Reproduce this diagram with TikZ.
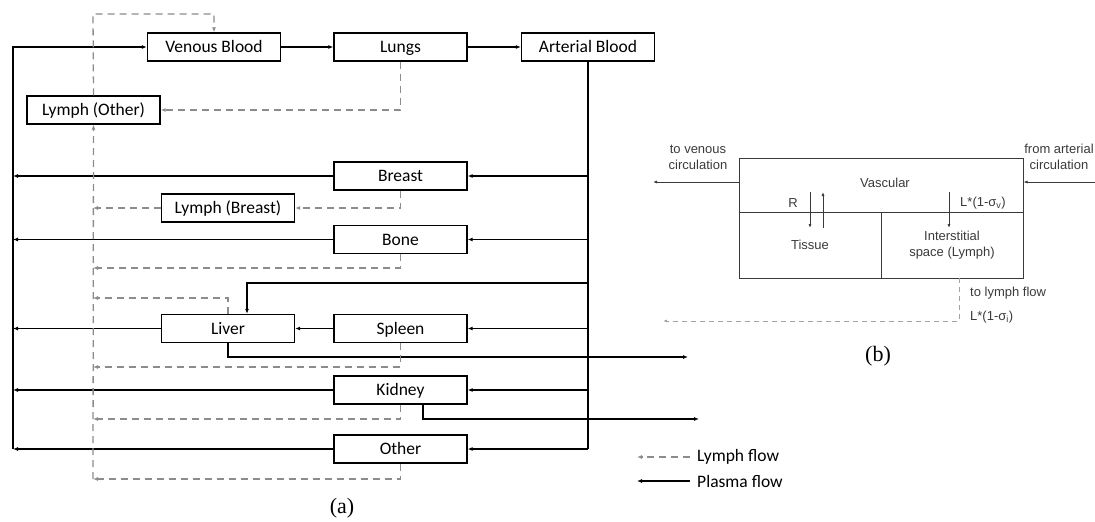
\documentclass[tikz,border=0pt]{standalone}
\usepackage{fontspec}
\setmainfont{Carlito}
\newfontfamily\arialf{Liberation Sans}
\newfontfamily\timesf{Liberation Serif}
\usetikzlibrary{arrows.meta}
\definecolor{lg}{HTML}{8C8C8C}
\definecolor{bg}{HTML}{3A3A3A}
\begin{document}
\begin{tikzpicture}[x=1pt,y=-1pt,
  box/.style={draw,line width=1.3pt,inner sep=0pt,minimum width=133pt,minimum height=28pt,text height=14.3pt,text depth=3pt,font=\fontsize{17.5}{17.5}\selectfont},
  pl/.style={line width=1.3pt,-{Latex[length=5pt,width=4pt]}},
  ly/.style={draw=lg,line width=1.3pt,dash pattern=on 7pt off 5pt,-{Latex[length=5pt,width=4pt]}},
  bbox/.style={draw=bg,line width=1pt,inner sep=0pt,font=\arialf\fontsize{13}{16.5}\selectfont,text=bg,align=center},
  bt/.style={font=\arialf\fontsize{13}{16}\selectfont,text=bg,align=center,inner sep=0pt},
  bar/.style={draw=bg,line width=1pt,-{Latex[length=4pt,width=3pt]}},
  lbl/.style={font=\timesf\fontsize{22}{22}\selectfont,inner sep=0pt}]
\useasboundingbox (0,0) rectangle (1095,522);

% panel (a) boxes
\node[box] (venous) at (214,47) {Venous Blood};
\node[box] (lungs) at (400.5,47) {Lungs};
\node[box] (arterial) at (588,47) {Arterial Blood};
\node[box] (lymphO) at (93.5,110) {Lymph (Other)};
\node[box] (breast) at (400.5,176) {Breast};
\node[box] (lymphB) at (228,208) {Lymph (Breast)};
\node[box] (bone) at (400.5,239.5) {Bone};
\node[box] (liver) at (228,328.5) {Liver};
\node[box] (spleen) at (400.5,328.5) {Spleen};
\node[box] (kidney) at (400.5,390) {Kidney};
\node[box] (other) at (400.5,449) {Other};

% coordinates
\coordinate (Lx) at (13,0);
\coordinate (Ax) at (588,0);
\coordinate (Yx) at (93,0);
\coordinate (lvBot) at (13,449);
\coordinate (artBot) at (588,449);
\coordinate (livIn1) at (588,283);
\coordinate (livIn2) at (247,283);
\coordinate (livOut1) at (228,357);
\coordinate (livOut) at (688,357);
\coordinate (kidOut1) at (423,419);
\coordinate (kidOut) at (699,419);
\coordinate (topL) at (93,14);
\coordinate (ybot) at (93,479);

% plasma flow
\draw[pl] (lvBot) |- (venous.west);
\draw[pl] (venous.east) -- (lungs.west);
\draw[pl] (lungs.east) -- (arterial.west);
\draw[line width=1.3pt] (arterial.south) -- (artBot);
\foreach \n in {breast,bone,spleen,kidney,other}{
  \draw[pl] (\n.east -| Ax) -- (\n.east);
}
\foreach \n in {breast,bone,liver,kidney,other}{
  \draw[pl] (\n.west) -- (\n.west -| Lx);
}
\draw[pl] (spleen.west) -- (liver.east);
\draw[pl] (livIn1) -- (livIn2) -- (livIn2 |- liver.north);
\draw[pl] (liver.south) -- (livOut1) -- (livOut);
\draw[pl] (kidOut1 |- kidney.south) -- (kidOut1) -- (kidOut);

% lymph flow
\draw[ly] (lungs.south) |- (lymphO.east);
\draw[ly] (lymphO.north) -- (topL) -| (venous.north);
\draw[ly] (ybot) -- (lymphO.south);
\draw[ly] (breast.south) |- (lymphB.east);
\draw[ly] (lymphB.west) -- (lymphB.west -| Yx);
\draw[ly] (bone.south) |- (93,268);
\draw[ly] (liver.north) |- (93,298);
\draw[ly] (spleen.south) |- (93,367);
\draw[ly] (kidney.south) |- (93,419);
\draw[ly] (other.south) |- (ybot);

% legend
\coordinate (lg1) at (690,457);
\coordinate (lg1e) at (637,457);
\coordinate (lg2) at (690,481);
\coordinate (lg2e) at (637,481);
\draw[ly] (lg1) -- (lg1e);
\draw[pl] (lg2) -- (lg2e);
\node[anchor=west,inner sep=0pt,font=\fontsize{17.5}{17.5}\selectfont] (lgt1) at (697,457) {Lymph flow};
\node[anchor=west,inner sep=0pt,font=\fontsize{17.5}{17.5}\selectfont] (lgt2) at (697,481) {Plasma flow};

\node[lbl] (la) at (342,508) {(a)};

% panel (b)
\node[bbox,minimum width=284pt,minimum height=54pt] (vasc) at (881,185) {};
\node[bt] (vasct) at (885,183) {Vascular};
\node[bbox,minimum width=142pt,minimum height=66pt] (tissue) at (810,245) {Tissue};
\node[bbox,minimum width=142pt,minimum height=66pt] (inter) at (952,245) {Interstitial\\space (Lymph)};
\node[bt] (R) at (793,203) {R};
\node[bt] (Lv) at (983,203) {L*(1-σ\textsubscript{v})};
\coordinate (a1s) at (810,192); \coordinate (a1e) at (810,228);
\coordinate (a2s) at (823,228); \coordinate (a2e) at (823,192);
\coordinate (a3s) at (949,192); \coordinate (a3e) at (949,228);
\draw[bar] (a1s) -- (a1e);
\draw[bar] (a2s) -- (a2e);
\draw[bar] (a3s) -- (a3e);
\coordinate (vout) at (653,182);
\coordinate (vin) at (1100,182);
\draw[bar] (vasc.west |- vout) -- (vout);
\draw[bar] (vin) -- (vasc.east |- vin);
\node[bt] (tv) at (698,157) {to venous\\circulation};
\node[bt] (fa) at (1059,157) {from arterial\\circulation};
\coordinate (ld1) at (959,278);
\coordinate (ld2) at (663,321);
\draw[draw=lg!80,line width=1pt,dash pattern=on 5pt off 4pt,-{Latex[length=4pt,width=3pt]}] (ld1) |- (ld2);
\node[bt,anchor=west] (tl) at (970,293) {to lymph flow};
\node[bt,anchor=west] (Li) at (970,317) {L*(1-σ\textsubscript{i})};
\node[lbl] (lb) at (878,356) {(b)};
\end{tikzpicture}
\end{document}
